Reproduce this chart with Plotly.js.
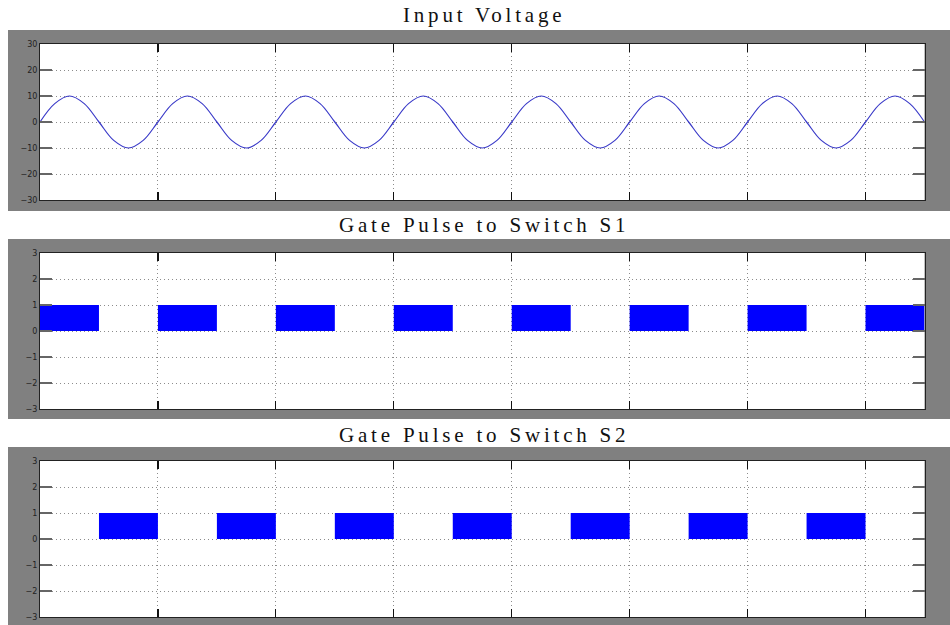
<!DOCTYPE html>
<html>
<head>
<meta charset="utf-8">
<script src="https://cdn.plot.ly/plotly-3.0.1.min.js"></script>
<style>
  html, body { margin: 0; padding: 0; background: #ffffff; }
  #chart { width: 950px; height: 625px; }
  .annotation-text { letter-spacing: 3.8px; }
</style>
</head>
<body>
<div id="chart"></div>
<script>
// ---- Data ----
const panelTitles = ["Input Voltage", "Gate Pulse to Switch S1", "Gate Pulse to Switch S2"];

// time (s) of sampled input voltage
const sineTime = [
  0,0.0025,0.005,0.0075,0.01,0.0125,0.015,0.0175,
  0.02,0.0225,0.025,0.0275,0.03,0.0325,0.035,0.0375,
  0.04,0.0425,0.045,0.0475,0.05,0.0525,0.055,0.0575,
  0.06,0.0625,0.065,0.0675,0.07,0.0725,0.075,0.0775,
  0.08,0.0825,0.085,0.0875,0.09,0.0925,0.095,0.0975,
  0.1,0.1025,0.105,0.1075,0.11,0.1125,0.115,0.1175,
  0.12,0.1225,0.125,0.1275,0.13,0.1325,0.135,0.1375,
  0.14,0.1425,0.145,0.1475,0.15
];
// input voltage (V)
const inputVoltage = [
  0,7.07,10,7.07,0,-7.07,-10,-7.07,
  0,7.07,10,7.07,0,-7.07,-10,-7.07,
  0,7.07,10,7.07,0,-7.07,-10,-7.07,
  0,7.07,10,7.07,0,-7.07,-10,-7.07,
  0,7.07,10,7.07,0,-7.07,-10,-7.07,
  0,7.07,10,7.07,0,-7.07,-10,-7.07,
  0,7.07,10,7.07,0,-7.07,-10,-7.07,
  0,7.07,10,7.07,0
];

// gate pulses: start times (s), level, pulse duration (s)
const s1Start = [0,0.02,0.04,0.06,0.08,0.10,0.12,0.14];
const s1Level = [1,1,1,1,1,1,1,1];
const s2Start = [0.01,0.03,0.05,0.07,0.09,0.11,0.13];
const s2Level = [1,1,1,1,1,1,1];
const pulseWidth = 0.01;

const timeRange = [0, 0.15];
const timeTick = 0.02;
const voltRange = [-30, 30];
const voltTick = 10;
const gateRange = [-3, 3];
const gateTick = 1;

// ---- Layout helpers (pixels -> paper) ----
const W = 950, H = 625;
const px = v => v / W;
const py = v => 1 - v / H;

const plotLeft = 40, plotRight = 924.5;
const plots = [ {top: 44, bottom: 200}, {top: 253, bottom: 409}, {top: 461, bottom: 617} ];
const panels = [ {top: 30, bottom: 211}, {top: 239, bottom: 419}, {top: 447, bottom: 626} ];
const titleY = [15, 225, 435];

const traces = [
  {
    type: "scatter", mode: "lines", x: sineTime, y: inputVoltage,
    line: {color: "#3a3ac8", width: 1.2, shape: "spline", smoothing: 1},
    xaxis: "x", yaxis: "y", hoverinfo: "skip"
  },
  {
    type: "bar", x: s1Start, y: s1Level, width: pulseWidth, offset: 0,
    marker: {color: "#0000ff", line: {width: 0}},
    xaxis: "x2", yaxis: "y2", hoverinfo: "skip"
  },
  {
    type: "bar", x: s2Start, y: s2Level, width: pulseWidth, offset: 0,
    marker: {color: "#0000ff", line: {width: 0}},
    xaxis: "x3", yaxis: "y3", hoverinfo: "skip"
  }
];

const gridStyle = {showgrid: true, gridcolor: "#8c8c8c", griddash: "1px,3px", gridwidth: 1};

function xAxis(i) {
  return Object.assign({
    domain: [px(plotLeft), px(plotRight)],
    anchor: i === 1 ? "y" : "y" + i,
    range: timeRange, tick0: 0, dtick: timeTick,
    showticklabels: false,
    ticks: "inside", ticklen: 8, tickcolor: "#111", tickwidth: 1.2,
    showline: true, linecolor: "#222", linewidth: 1, mirror: "ticks",
    zeroline: false, fixedrange: true
  }, gridStyle);
}
function yAxis(i, range, dtick) {
  return Object.assign({
    domain: [py(plots[i-1].bottom), py(plots[i-1].top)],
    anchor: i === 1 ? "x" : "x" + i,
    range: range, tick0: 0, dtick: dtick,
    ticks: "inside", ticklen: 12, tickcolor: "#666", tickwidth: 1.2,
    tickfont: {family: "DejaVu Sans", size: 8, color: "#222"},
    showline: true, linecolor: "#222", linewidth: 1, mirror: "ticks",
    zeroline: false, fixedrange: true
  }, gridStyle);
}

const shapes = [];
panels.forEach(p => shapes.push({
  type: "rect", xref: "paper", yref: "paper", layer: "below",
  x0: px(8), x1: px(951), y0: py(p.bottom), y1: py(p.top),
  fillcolor: "#808080", line: {width: 0}
}));
plots.forEach(p => shapes.push({
  type: "rect", xref: "paper", yref: "paper", layer: "below",
  x0: px(plotLeft), x1: px(plotRight), y0: py(p.bottom), y1: py(p.top),
  fillcolor: "#ffffff", line: {width: 0}
}));

const annotations = panelTitles.map((t, k) => ({
  text: t, xref: "paper", yref: "paper",
  x: px((plotLeft + plotRight) / 2 + 2), y: py(titleY[k]),
  xanchor: "center", yanchor: "middle", showarrow: false,
  font: {family: "Liberation Serif", size: 21, color: "#111"}
}));

const layout = {
  width: W, height: H,
  margin: {l: 0, r: 0, t: 0, b: 0},
  paper_bgcolor: "#ffffff", plot_bgcolor: "rgba(0,0,0,0)",
  showlegend: false,
  xaxis: xAxis(1), xaxis2: xAxis(2), xaxis3: xAxis(3),
  yaxis: yAxis(1, voltRange, voltTick),
  yaxis2: yAxis(2, gateRange, gateTick),
  yaxis3: yAxis(3, gateRange, gateTick),
  shapes: shapes,
  annotations: annotations
};

Plotly.newPlot("chart", traces, layout, {displayModeBar: false, staticPlot: true});
</script>
</body>
</html>
